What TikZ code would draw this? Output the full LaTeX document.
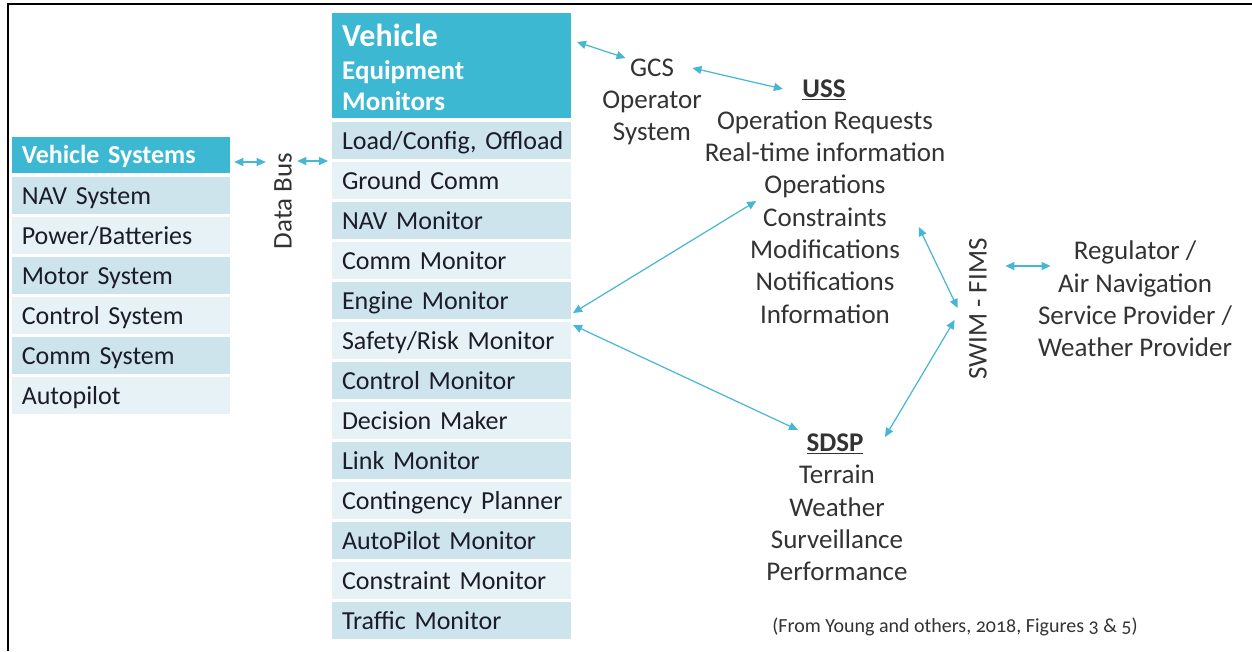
\documentclass[tikz,border=0pt]{standalone}
\usepackage{fontspec}
\setmainfont{Carlito}
\usetikzlibrary{arrows.meta, shapes, positioning, calc}

\definecolor{headblue}{HTML}{3DB8D2}
\definecolor{rowdark}{HTML}{CDE4EC}
\definecolor{rowlight}{HTML}{E7F2F7}
\definecolor{linkblue}{HTML}{45B6D4}
\definecolor{rowtext}{HTML}{1C1C28}
\definecolor{lbltext}{HTML}{333333}

\newcommand{\rowfont}{\fontsize{26}{30}\selectfont\spaceskip=4.5pt plus 1pt minus 1pt}
\newcommand{\lblfont}{\fontsize{27}{32.3}\selectfont}
\newcommand{\bigfont}{\fontsize{32}{36}\selectfont}
\newcommand{\notefont}{\fontsize{20}{24}\selectfont}

\begin{document}
\begin{tikzpicture}
    [x=1pt, y=-1pt, node distance=3pt,
    link/.style={<->, >={Triangle[length=9pt,width=8pt]}, draw=linkblue, line width=1.2pt},
    headbox/.style={rectangle, fill=headblue, text=white, inner ysep=0pt, outer sep=0pt},
    rowbox/.style={rectangle, minimum height=37pt, inner xsep=10pt, inner ysep=0pt, outer sep=0pt,
        align=left, text height=19pt, text depth=2pt, font=\rowfont, text=rowtext},
    darkrow/.style={rowbox, fill=rowdark},
    lightrow/.style={rowbox, fill=rowlight},
    sysw/.style={text width=198.5pt},
    monw/.style={text width=219pt},
    lbl/.style={align=center, font=\lblfont, text=lbltext}]

    \useasboundingbox (0,0) rectangle (1252,651);
    \fill[white] (0,0) rectangle (1252,651);
    \draw[line width=2.5pt] (8,651) -- (8,4) -- (1252,4);

    % vehicle systems
    \node[headbox, sysw, minimum height=36pt, inner xsep=10pt, align=left, font=\bfseries\rowfont,
        text height=19pt, text depth=2pt] (vehsys) at (121,155) {Vehicle Systems};
    \node[darkrow, sysw] (nav) [below=4pt of vehsys] {NAV System};
    \node[lightrow, sysw] (power) [below=of nav] {Power/Batteries};
    \node[darkrow, sysw] (motor) [below=of power] {Motor System};
    \node[lightrow, sysw] (ctrl) [below=of motor] {Control System};
    \node[darkrow, sysw] (comm) [below=of ctrl] {Comm System};
    \node[lightrow, sysw] (auto) [below=of comm] {Autopilot};

    \node[lbl, rotate=90] (bus) at (283,201) {Data Bus};

    % vehicle equipment monitors
    \node[headbox, minimum width=239pt, minimum height=105pt] (vehmon) at (451.5,65.5) {};
    \node[anchor=base west, text=white, font=\bfseries\bigfont, inner sep=0pt] (vmA)
        at ($(vehmon.north west)+(10pt,-33pt)$) {Vehicle};
    \node[anchor=base west, text=white, font=\bfseries\lblfont, inner sep=0pt] (vmB)
        at ($(vehmon.north west)+(10pt,-66pt)$) {Equipment};
    \node[anchor=base west, text=white, font=\bfseries\lblfont, inner sep=0pt] (vmC)
        at ($(vehmon.north west)+(10pt,-97pt)$) {Monitors};

    \node[darkrow, monw] (load) [below=4pt of vehmon] {\mbox{Load/Config, Offload}};
    \node[lightrow, monw] (ground) [below=of load] {Ground Comm};
    \node[darkrow, monw] (navmon) [below=of ground] {NAV Monitor};
    \node[lightrow, monw] (commmon) [below=of navmon] {Comm Monitor};
    \node[darkrow, monw] (engine) [below=of commmon] {Engine Monitor};
    \node[lightrow, monw] (safety) [below=of engine] {Safety/Risk Monitor};
    \node[darkrow, monw] (ctrlmon) [below=of safety] {Control Monitor};
    \node[lightrow, monw] (decide) [below=of ctrlmon] {Decision Maker};
    \node[darkrow, monw] (linkmon) [below=of decide] {Link Monitor};
    \node[lightrow, monw] (conting) [below=of linkmon] {\mbox{Contingency Planner}};
    \node[darkrow, monw] (automon) [below=of conting] {AutoPilot Monitor};
    \node[lightrow, monw] (constr) [below=of automon] {Constraint Monitor};
    \node[darkrow, monw] (traffic) [below=of constr] {Traffic Monitor};

    % ground side
    \node[lbl] (gcs) at (652,68) {GCS};
    \node[lbl] (gcsop) at (652,118) {Operator\\System};
    \node[lbl, font=\bfseries\lblfont] (uss) at (824,90) {\underline{USS}};
    \node[lbl] (ussbody) at (825,217) {Operation Requests\\Real-time information\\Operations\\Constraints\\Modifications\\Notifications\\Information};
    \node[lbl, rotate=90] (swim) at (978,309) {SWIM - FIMS};
    \node[lbl] (reg) at (1135,299) {Regulator /\\Air Navigation\\Service Provider /\\Weather Provider};
    \node[lbl, font=\bfseries\lblfont] (sdsp) at (835,444) {\underline{SDSP}};
    \node[lbl] (sdspbody) at (837,523) {Terrain\\Weather\\Surveillance\\Performance};

    \node[text=lbltext, font=\notefont] (note) at (955,627) {\addfontfeature{Numbers=OldStyle}(From Young and others, 2018, Figures 3 \& 5)};

    \draw[link] ([shift={(4pt,-7pt)}]vehsys.east) -- ([shift={(-5pt,39pt)}]bus.north);
    \draw[link] ([shift={(2pt,40pt)}]bus.south) -- ([shift={(-4pt,-20.5pt)}]load.west);
    \draw[link] ([shift={(6pt,23.5pt)}]vehmon.east) -- ([shift={(-1pt,10pt)}]gcs.west);
    \draw[link] ([xshift=15pt]gcs.east) -- ([shift={(-16pt,1pt)}]uss.west);
    \draw[link] ([shift={(2pt,-12.5pt)}]engine.east) -- ([shift={(55pt,16pt)}]ussbody.west);
    \draw[link] ([shift={(-30pt,-10pt)}]ussbody.east) -- ([shift={(-8pt,1pt)}]swim.north);
    \draw[link] ([shift={(-11pt,-11pt)}]swim.north) -- ([shift={(18pt,7pt)}]sdsp.east);
    \draw[link] ([shift={(15pt,43pt)}]swim.south) -- ([shift={(16pt,33pt)}]reg.west);
    \draw[link] ([shift={(2pt,15.5pt)}]safety.east) -- ([shift={(-5pt,14pt)}]sdsp.west);
\end{tikzpicture}
\end{document}
